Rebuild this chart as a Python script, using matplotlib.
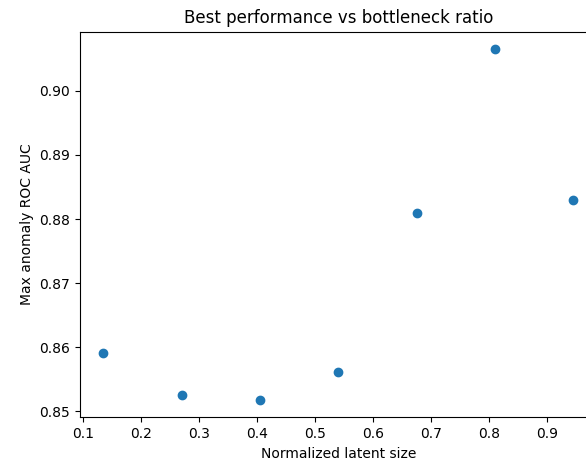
import matplotlib
matplotlib.use("Agg")
import matplotlib.pyplot as plt

# bottleneck ratio (latent size / input size) and best ROC AUC reached
latent_ratio = [0.135, 0.27, 0.405, 0.54, 0.675, 0.81, 0.945]
max_auc = [0.8591, 0.8526, 0.8518, 0.8561, 0.8809, 0.9065, 0.8830]

fig = plt.figure(figsize=(5.86, 4.63), dpi=100)
ax = fig.add_axes([0.1365, 0.0983, 0.882, 0.8334])

ax.scatter(latent_ratio, max_auc)
ax.set_title("Best performance vs bottleneck ratio")
ax.set_xlabel("Normalized latent size")
ax.set_ylabel("Max anomaly ROC AUC")

fig.savefig("out.png", dpi=100)
plt.close(fig)
